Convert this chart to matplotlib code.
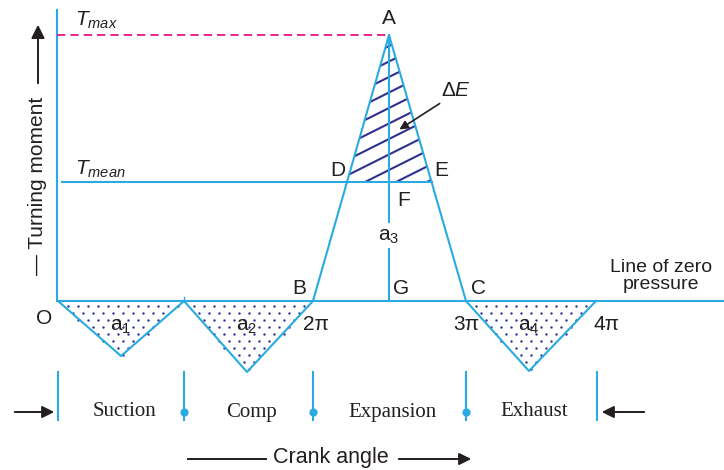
import numpy as np
import matplotlib
matplotlib.use("Agg")
import matplotlib.pyplot as plt
from matplotlib.patches import Polygon
from matplotlib.path import Path

plt.rcParams['font.family'] = ['Liberation Sans', 'DejaVu Sans']
plt.rcParams['mathtext.fontset'] = 'custom'
plt.rcParams['mathtext.rm'] = 'Liberation Sans'
plt.rcParams['mathtext.it'] = 'Liberation Sans:italic'

# ---- data (schematic units: crank-angle position, turning-moment level) ----
curve_x = [58, 121, 184, 247, 313, 389, 466, 529, 596]
curve_y = [301, 356, 301, 372, 301, 35, 301, 371, 301]
zero_y = 301
t_max = 35
t_mean = 182
stroke_bounds = [58, 184, 313, 466, 597]
stroke_labels = ['Suction', 'Comp', 'Expansion', 'Exhaust']
angle_labels = ['2π', '3π', '4π']
area_labels = ['$\\mathregular{a_1}$', '$\\mathregular{a_2}$', '$\\mathregular{a_4}$']

CYAN = '#29ABE2'
NAVY = '#2E3192'
MAG = '#E5007E'
INK = '#231F20'

fig = plt.figure(figsize=(7.24, 4.70), dpi=100)
ax = fig.add_axes([0, 0, 1, 1])
ax.set_xlim(0, 724)
ax.set_ylim(470, 0)
ax.axis('off')

cx = np.array(curve_x, float)
cy = np.array(curve_y, float)

A = (cx[5], cy[5]); B = (cx[4], cy[4]); C = (cx[6], cy[6])
def interp_x(p, q, y):
    return p[0] + (q[0] - p[0]) * (y - p[1]) / (q[1] - p[1])
D = (interp_x(B, A, t_mean), t_mean)
E = (interp_x(A, C, t_mean), t_mean)

# dotted fills for negative loops
rng_idx = [(0, 1, 2), (2, 3, 4), (6, 7, 8)]
for (i, j, k) in rng_idx:
    tri = np.array([[cx[i], cy[i]], [cx[j], cy[j]], [cx[k], cy[k]]])
    xs, ys = [], []
    sp = 10.0
    for r, yy in enumerate(np.arange(zero_y + 5, tri[1, 1], sp * 0.7)):
        off = (sp / 2) * (r % 2)
        for xx in np.arange(tri[0, 0] + off, tri[2, 0], sp):
            xs.append(xx); ys.append(yy)
    pts = np.column_stack([xs, ys])
    inside = Path(tri).contains_points(pts, radius=-3)
    ax.scatter(pts[inside, 0], pts[inside, 1], s=3.0, color=NAVY, lw=0, zorder=2)

# hatched excess-energy triangle
tri = np.array([A, D, E])
clip = Polygon(tri, closed=True, facecolor='none', edgecolor='none')
ax.add_patch(clip)
for c in np.arange(t_mean + 40, A[1] - 60, -15.5):
    xs = np.array([D[0] - 20, E[0] + 20])
    ys = c - 0.5 * (xs - D[0])
    ln, = ax.plot(xs, ys, color=NAVY, lw=1.5, zorder=2)
    ln.set_clip_path(clip)

# main curve
ax.plot(cx, cy, color=CYAN, lw=1.5, zorder=3)
ax.plot([57, 57], [10, zero_y], color=CYAN, lw=1.5, zorder=3)
ax.plot([57, 724], [zero_y, zero_y], color=CYAN, lw=1.5, zorder=3)
ax.plot([184, 184], [297, zero_y], color=CYAN, lw=1.0, zorder=3)
ax.plot([62, E[0]], [t_mean, t_mean], color=CYAN, lw=1.5, zorder=3)
ax.plot([57, A[0]], [t_max, t_max], color=MAG, lw=1.2, ls=(0, (5, 3)), zorder=3)
ax.plot([A[0], A[0]], [A[1], 222], color=CYAN, lw=1.5, zorder=3)
ax.plot([A[0], A[0]], [249, zero_y], color=CYAN, lw=1.5, zorder=3)

fs = 15
kw = dict(fontsize=fs, ha='center', va='center', color=INK)
ax.text(A[0], 19, 'A', **kw)
ax.text(D[0] - 9, 171, 'D', **kw)
ax.text(E[0] + 10, 171, 'E', **kw)
ax.text(A[0] + 15, 200, 'F', **kw)
ax.text(A[0], 237, '$\\mathregular{a_3}$', **kw)
ax.text(A[0] + 12, 288, 'G', **kw)
ax.text(B[0] - 14, 288, 'B', **kw)
ax.text(C[0] + 12, 288, 'C', **kw)
ax.text(44, 318, 'O', **kw)
for xv, lab in zip([316, 466, 607], angle_labels):
    ax.text(xv, 325, lab, **kw)
for (i, j, k), lab in zip(rng_idx, area_labels):
    ax.text(cx[j], 326, lab, **kw)

ax.text(96, 20, '$T_{max}$', **kw)
ax.text(100, 169, '$T_{mean}$', **kw)
ax.text(456, 90, '$\\Delta E$', **kw)
ax.annotate('', xy=(397, 131), xytext=(442, 102),
            arrowprops=dict(arrowstyle='-|>', color=INK, lw=1.2, mutation_scale=13))
ax.text(661, 276, 'Line of zero\npressure', fontsize=14, ha='center', va='center',
        color=INK, linespacing=1.05)

# turning moment label
ax.text(38, 186, '— Turning moment', fontsize=15, rotation=90, ha='center', va='center',
        color=INK)
ax.annotate('', xy=(38, 22), xytext=(38, 86),
            arrowprops=dict(arrowstyle='-|>', color=INK, lw=1.4, mutation_scale=20))

# stroke ticks
for xv in stroke_bounds:
    ax.plot([xv, xv], [372, 420], color=CYAN, lw=1.5)
ax.scatter(stroke_bounds[1:-1], [412] * 3, s=24, color=CYAN, zorder=4)
for a, b, lab in zip(stroke_bounds[:-1], stroke_bounds[1:], stroke_labels):
    ax.text((a + b) / 2 + 3, 412, lab, fontsize=15, ha='center', va='center',
            family='Liberation Serif', color=INK)
ax.annotate('', xy=(57, 412), xytext=(12, 412),
            arrowprops=dict(arrowstyle='-|>', color=INK, lw=1.4, mutation_scale=18))
ax.annotate('', xy=(599, 412), xytext=(647, 412),
            arrowprops=dict(arrowstyle='-|>', color=INK, lw=1.4, mutation_scale=18))

# crank angle
ax.text(331, 458, 'Crank angle', fontsize=15.5, ha='center', va='center', color=INK)
ax.plot([188, 266], [459, 459], color=INK, lw=1.4)
ax.annotate('', xy=(474, 459), xytext=(396, 459),
            arrowprops=dict(arrowstyle='-|>', color=INK, lw=1.4, mutation_scale=18))

fig.savefig('out.png', dpi=100)
